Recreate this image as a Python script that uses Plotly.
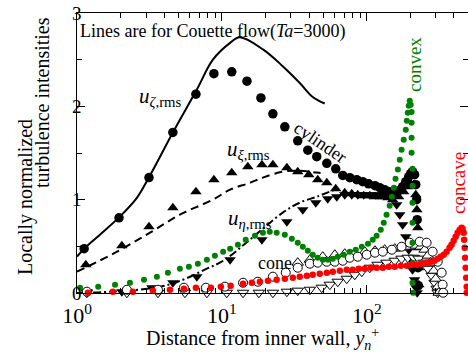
import plotly.graph_objects as go

SERIF = "Liberation Serif, Times New Roman, serif"

# ---------------- Couette flow DNS (Ta = 3000) ----------------
couette_zeta_yp = [1.0, 1.12, 1.44, 1.95, 2.59, 3.14, 4.59, 6.72, 8.67, 11.4, 13.3, 19.2, 26.3, 34.5, 42.4, 51.3]
couette_zeta = [0.39, 0.475, 0.625, 0.81, 1.02, 1.24, 1.72, 2.18, 2.50, 2.68, 2.74, 2.61, 2.43, 2.25, 2.10, 2.03]

couette_xi_yp = [1.0, 1.89, 3.19, 5.13, 8.67, 11.4, 15.6, 19.2, 26.3, 34.5, 45.2, 51.3]
couette_xi = [0.228, 0.443, 0.646, 0.839, 1.0, 1.107, 1.18, 1.236, 1.30, 1.31, 1.29, 1.28]

couette_eta_yp = [1.0, 1.71, 3.45, 4.97, 7.63, 10.5, 15.6, 26.3, 34.5, 45.2, 60.2]
couette_eta = [0.0, 0.014, 0.057, 0.121, 0.25, 0.357, 0.571, 0.861, 0.968, 1.032, 1.107]

# ---------------- Cylinder ----------------
cyl_zeta_yp = [1.12, 1.95, 3.14, 4.59, 6.62, 8.81, 11.7, 14.9, 18.6, 22.5, 27.2, 33.4, 39.2, 45.2,
               53.0, 61.1, 68.3, 76.4, 85.3, 93.8, 103, 114, 123, 133, 144, 156, 166, 177, 186,
               195, 201, 207, 214, 218, 221, 223, 225, 226, 227]
cyl_zeta = [0.475, 0.806, 1.237, 1.72, 2.13, 2.35, 2.37, 2.27, 2.09, 1.92, 1.78, 1.63, 1.53, 1.46,
            1.39, 1.33, 1.26, 1.236, 1.214, 1.193, 1.17, 1.15, 1.129, 1.107, 1.086, 1.075, 1.096,
            1.139, 1.193, 1.246, 1.279, 1.30, 1.268, 1.161, 1.0, 0.786, 0.518, 0.271, 0.078]

cyl_xi_yp = [1.15, 2.04, 3.14, 4.59, 6.62, 8.81, 11.7, 15.1, 18.9, 22.5, 28.1, 33.4, 39.8, 45.9,
             53.0, 61.1, 70.5, 78.8, 86.7, 95.3, 105, 115, 127, 140, 151, 166, 180, 192, 201,
             211, 218, 222, 225, 226, 228, 229]
cyl_xi = [0.303, 0.507, 0.711, 0.914, 1.086, 1.214, 1.289, 1.354, 1.375, 1.375, 1.343, 1.30, 1.268,
          1.214, 1.182, 1.118, 1.075, 1.064, 1.054, 1.043, 1.043, 1.032, 1.032, 1.021, 1.0, 1.032,
          1.086, 1.139, 1.172, 1.161, 1.054, 0.893, 0.70, 0.486, 0.271, 0.089]

cyl_eta_yp = [1.17, 2.04, 3.29, 4.59, 6.72, 11.4, 18.9, 28.1, 36.2, 44.5, 53.8, 62.1, 70.5, 78.8,
              86.7, 95.3, 105, 115, 127, 140, 151, 161, 169, 177, 186, 195, 201, 207, 214, 219, 223]
cyl_eta = [0.014, 0.014, 0.057, 0.11, 0.175, 0.357, 0.571, 0.764, 0.893, 0.968, 1.011, 1.032, 1.054,
           1.054, 1.054, 1.054, 1.054, 1.054, 1.054, 1.054, 1.043, 0.946, 0.839, 0.732, 0.603,
           0.464, 0.357, 0.25, 0.143, 0.057, 0.003]

# ---------------- Cone ----------------
cone_zeta_yp = [1.17, 2.21, 3.62, 5.47, 7.76, 10.5, 14.0, 17.7, 22.5, 27.6, 33.4, 40.5, 45.9, 53.0,
                60.2, 68.3, 76.4, 86.7, 100, 114, 129, 149, 174, 198, 232, 259, 285, 309, 329, 334, 337]
cone_zeta = [0.014, 0.035, 0.035, 0.057, 0.057, 0.068, 0.11, 0.121, 0.175, 0.218, 0.271, 0.314,
             0.325, 0.335, 0.335, 0.346, 0.378, 0.389, 0.41, 0.432, 0.443, 0.464, 0.496, 0.539,
             0.55, 0.539, 0.443, 0.335, 0.218, 0.089, 0.003]

cone_xi_yp = [33.4, 40.5, 49.7, 60.2, 70.5, 82.7, 96.9, 114, 133, 156, 177, 198, 218, 236, 251,
              264, 276, 290, 299, 309, 314]
cone_xi = [0.325, 0.357, 0.389, 0.41, 0.421, 0.432, 0.443, 0.453, 0.464, 0.475, 0.486, 0.496,
           0.507, 0.496, 0.464, 0.40, 0.325, 0.239, 0.153, 0.068, 0.003]

cone_eta_yp = [1.17, 2.21, 3.62, 5.56, 7.88, 10.8, 14.0, 18.0, 22.5, 28.1, 33.4, 40.5, 48.9, 55.6,
               63.1, 72.8, 82.7, 92.4, 105, 119, 137, 156, 174, 192, 211, 228, 247, 264, 281, 294,
               304, 309]
cone_eta = [0.003, 0.003, 0.003, 0.003, 0.003, 0.003, 0.003, 0.003, 0.003, 0.014, 0.025, 0.035,
            0.057, 0.089, 0.121, 0.153, 0.196, 0.228, 0.271, 0.303, 0.325, 0.346, 0.368, 0.378,
            0.378, 0.368, 0.325, 0.26, 0.185, 0.11, 0.046, 0.003]

# ---------------- Convex wall ----------------
convex_yp = [1.05, 1.40, 1.83, 2.32, 2.90, 3.56, 4.24, 5.13, 5.92, 6.83, 7.88, 8.95, 10.2, 11.4,
             12.9, 14.6, 16.9, 19.2, 21.4, 23.9, 27.2, 30.4, 33.4, 36.2, 39.2, 42.4, 45.9, 49.7,
             53.8, 58.3, 63.1, 69.4, 76.4, 84.0, 92.4, 102, 110, 117, 125, 131, 137, 144, 149,
             154, 158, 164, 169, 174, 180, 186, 189, 192, 195, 198, 201, 204, 204, 204, 204,
             207, 207, 207, 207, 207, 207, 207, 209]
convex = [0.057, 0.068, 0.089, 0.11, 0.143, 0.175, 0.218, 0.26, 0.282, 0.314, 0.357, 0.40, 0.443,
          0.475, 0.518, 0.571, 0.614, 0.646, 0.657, 0.646, 0.625, 0.582, 0.539, 0.496, 0.453,
          0.41, 0.378, 0.357, 0.357, 0.368, 0.389, 0.41, 0.443, 0.464, 0.496, 0.528, 0.571,
          0.614, 0.678, 0.754, 0.839, 0.936, 1.032, 1.129, 1.225, 1.322, 1.429, 1.536, 1.643,
          1.75, 1.846, 1.932, 2.007, 2.061, 2.018, 1.94, 1.825, 1.664, 1.504, 1.332, 1.15,
          0.968, 0.754, 0.539, 0.325, 0.11, 0.003]

# ---------------- Concave wall ----------------
concave_yp = [1.19, 1.77, 2.43, 3.34, 4.38, 5.47, 6.62, 8.40, 9.84, 11.5, 14.0, 16.1, 18.3, 20.8,
              23.9, 27.2, 30.9, 34.5, 38.6, 42.4, 47.4, 53.0, 58.3, 65.2, 72.8, 80.0, 88.1, 96.9,
              107, 117, 129, 142, 156, 172, 189, 204, 221, 239, 259, 276, 294, 309, 324, 340,
              356, 373, 385, 398, 411, 424, 438, 452, 459, 467, 470, 474, 478, 482, 486, 490, 490]
concave = [0.003, 0.014, 0.014, 0.025, 0.035, 0.046, 0.057, 0.057, 0.068, 0.078, 0.10, 0.11, 0.121,
           0.132, 0.143, 0.153, 0.164, 0.175, 0.185, 0.196, 0.207, 0.218, 0.228, 0.239, 0.25,
           0.25, 0.26, 0.26, 0.271, 0.271, 0.271, 0.282, 0.282, 0.293, 0.293, 0.303, 0.303,
           0.314, 0.325, 0.335, 0.346, 0.368, 0.389, 0.41, 0.443, 0.486, 0.518, 0.561, 0.603,
           0.646, 0.678, 0.70, 0.689, 0.646, 0.571, 0.486, 0.378, 0.271, 0.164, 0.068, 0.003]

# axis ticks
x_major = [1, 10, 100]
x_major_text = ["10<sup>0</sup>", "10<sup>1</sup>", "10<sup>2</sup>"]
x_minor = [2, 3, 4, 5, 6, 7, 8, 9, 20, 30, 40, 50, 60, 70, 80, 90, 200, 300, 400]
y_major = [0, 1, 2, 3]
y_major_text = ["0", "1", "2", "3"]
y_minor = [0.5, 1.5, 2.5]

GREEN = "rgb(0,128,0)"
RED = "rgb(255,0,0)"

fig = go.Figure()

# Couette lines
fig.add_trace(go.Scatter(x=couette_zeta_yp, y=couette_zeta, mode="lines", line_shape="spline",
                         line=dict(color="black", width=2)))
fig.add_trace(go.Scatter(x=couette_xi_yp, y=couette_xi, mode="lines", line_shape="spline",
                         line=dict(color="black", width=2, dash="8px,5px")))
fig.add_trace(go.Scatter(x=couette_eta_yp, y=couette_eta, mode="lines", line_shape="spline",
                         line=dict(color="black", width=2, dash="8px,3px,2px,3px")))

# Cylinder (filled symbols)
fig.add_trace(go.Scatter(x=cyl_zeta_yp, y=cyl_zeta, mode="markers", cliponaxis=False,
                         marker=dict(symbol="circle", size=9.5, color="black")))
fig.add_trace(go.Scatter(x=cyl_xi_yp, y=cyl_xi, mode="markers", cliponaxis=False,
                         marker=dict(symbol="triangle-up", size=10, color="black")))
fig.add_trace(go.Scatter(x=cyl_eta_yp, y=cyl_eta, mode="markers", cliponaxis=False,
                         marker=dict(symbol="triangle-down", size=10, color="black")))

# Cone (open symbols)
open_line = dict(color="black", width=1)
fig.add_trace(go.Scatter(x=cone_eta_yp, y=cone_eta, mode="markers", cliponaxis=False,
                         marker=dict(symbol="triangle-down", size=10, color="white", line=open_line)))
fig.add_trace(go.Scatter(x=cone_xi_yp, y=cone_xi, mode="markers", cliponaxis=False,
                         marker=dict(symbol="triangle-up", size=10, color="white", line=open_line)))
fig.add_trace(go.Scatter(x=cone_zeta_yp, y=cone_zeta, mode="markers", cliponaxis=False,
                         marker=dict(symbol="circle", size=9, color="white", line=open_line)))

# Convex and concave walls
fig.add_trace(go.Scatter(x=convex_yp, y=convex, mode="markers", cliponaxis=False,
                         marker=dict(symbol="circle", size=6, color=GREEN)))
fig.add_trace(go.Scatter(x=concave_yp, y=concave, mode="markers", cliponaxis=False,
                         marker=dict(symbol="circle", size=6.5, color=RED)))

axis_common = dict(showline=True, linecolor="black", linewidth=1, mirror="ticks",
                   ticks="inside", tickcolor="black", tickwidth=1, ticklen=8,
                   showgrid=False, zeroline=False)

fig.update_layout(
    width=468, height=356,
    margin=dict(l=77, r=0, t=13, b=63),
    paper_bgcolor="white", plot_bgcolor="white",
    showlegend=False,
    font=dict(family=SERIF, size=18, color="black"),
    xaxis=dict(type="log", range=[0, 2.699], tickmode="array", tickvals=x_major,
               ticktext=x_major_text, tickfont=dict(size=22, family=SERIF),
               ticklabelstandoff=3,
               minor=dict(tickmode="array", tickvals=x_minor, ticks="inside", ticklen=5,
                          tickcolor="black", showgrid=False),
               **axis_common),
    yaxis=dict(range=[0, 3], tickmode="array", tickvals=y_major, showticklabels=False,
               minor=dict(tickmode="array", tickvals=y_minor, ticks="inside", ticklen=5,
                          tickcolor="black", showgrid=False),
               **axis_common),
)

def px_x(px):
    return (px - 77) / 391

def px_y(py):
    return (293 - py) / 280

ann = []
# y tick labels sit on the axis line
for v, t in zip(y_major, y_major_text):
    ann.append(dict(x=0, xref="paper", y=v, yref="y", text=t, font=dict(size=19)))

ann += [
    dict(x=px_x(78), y=px_y(31), text="Lines are for Couette flow(<i>Ta</i>=3000)",
         xanchor="left", font=dict(size=18)),
    dict(x=px_x(160), y=px_y(97), text="<i>u</i><sub><i>ζ</i>,rms</sub>", font=dict(size=21)),
    dict(x=px_x(248), y=px_y(150), text="<i>u</i><sub><i>ξ</i>,rms</sub>", font=dict(size=21)),
    dict(x=px_x(250), y=px_y(219), text="<i>u</i><sub><i>η</i>,rms</sub>", font=dict(size=21)),
    dict(x=px_x(320), y=px_y(142), text="cylinder", textangle=34, font=dict(size=18)),
    dict(x=px_x(275), y=px_y(263), text="cone", font=dict(size=18)),
    dict(x=px_x(414), y=px_y(65), text="convex", textangle=-90, font=dict(size=19, color=GREEN)),
    dict(x=px_x(458), y=px_y(183), text="concave", textangle=-90, font=dict(size=19, color=RED)),
    dict(x=px_x(262), y=px_y(339), text="Distance from inner wall, <i>y</i><sub><i>n</i></sub><sup>+</sup>",
         font=dict(size=20)),
    dict(x=px_x(25), y=px_y(197), text="Locally normalized", textangle=-90, font=dict(size=20)),
    dict(x=px_x(42), y=px_y(103), text="turbulence intensities", textangle=-90, font=dict(size=20)),
]
for a in ann:
    a.setdefault("xref", "paper")
    a.setdefault("yref", "paper")
    a.setdefault("showarrow", False)
    a.setdefault("xanchor", "center")
    a.setdefault("yanchor", "middle")
fig.update_layout(annotations=ann)

fig.write_html("out.html")
